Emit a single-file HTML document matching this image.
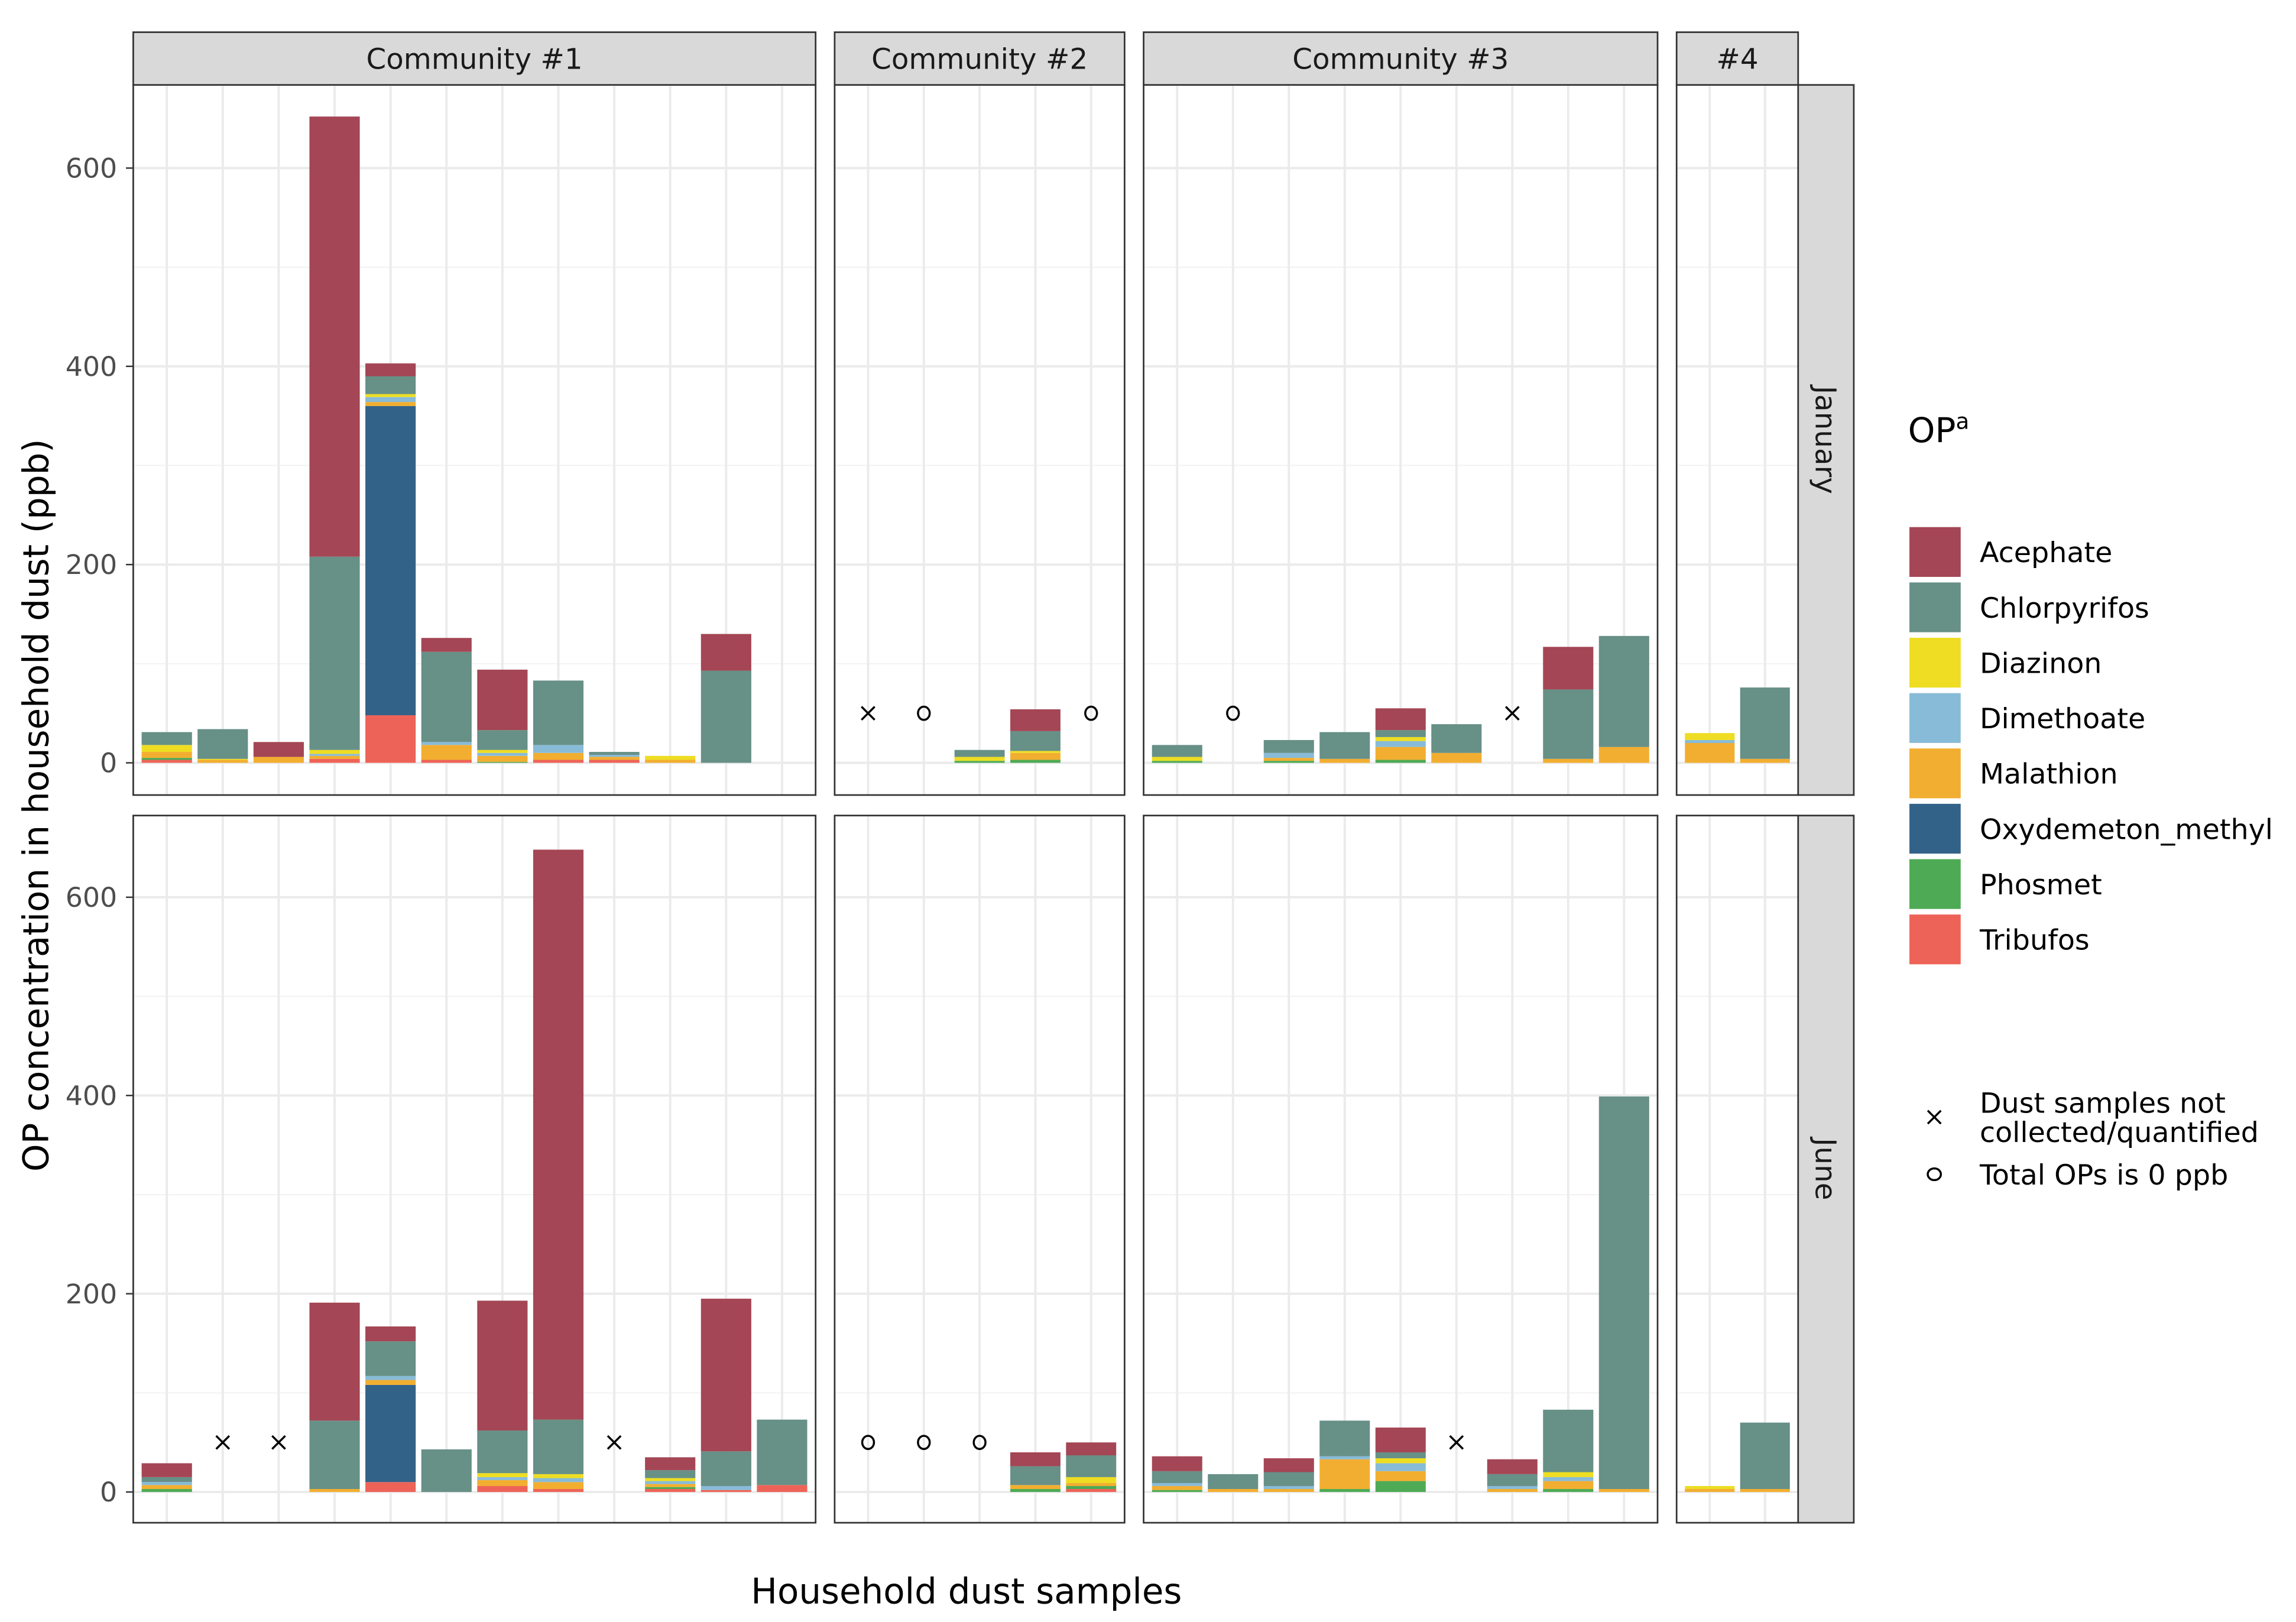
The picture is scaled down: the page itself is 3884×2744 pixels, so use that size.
<!DOCTYPE html>
<html><head><meta charset="utf-8"><style>
html,body{margin:0;padding:0;background:#fff;}
svg{display:block;font-family:"DejaVu Sans","Liberation Sans",sans-serif;}
</style></head><body>
<svg id="chart" width="3884" height="2744" viewBox="0 0 1568 1107.8" preserveAspectRatio="none" xmlns="http://www.w3.org/2000/svg">
<g id="grid"></g><g id="bars"></g><g id="frames"></g><g id="legend"></g>
</svg>
<script>
const compounds = ["Tribufos","Phosmet","Oxydemeton_methyl","Malathion","Dimethoate","Diazinon","Chlorpyrifos","Acephate"];
const colors = {Acephate:"#A44655",Chlorpyrifos:"#679087",Diazinon:"#EEDD22",Dimethoate:"#88BBD8",Malathion:"#F2AE30",Oxydemeton_methyl:"#336288",Phosmet:"#4EAA55",Tribufos:"#EE6358"};
const legendOrder = ["Acephate","Chlorpyrifos","Diazinon","Dimethoate","Malathion","Oxydemeton_methyl","Phosmet","Tribufos"];
const communities = ["Community #1","Community #2","Community #3","#4"];
const slotCounts = [12,5,9,2];
const months = ["January","June"];
const yTicks = [0,200,400,600];
const yMinor = [100,300,500];
const janSamples = [
 [0,0,{Tribufos:3,Phosmet:2,Malathion:6,Diazinon:7,Chlorpyrifos:13}],
 [0,1,{Malathion:3,Diazinon:1,Chlorpyrifos:30}],
 [0,2,{Malathion:6,Acephate:15}],
 [0,3,{Tribufos:4,Malathion:3,Dimethoate:2,Diazinon:4,Chlorpyrifos:195,Acephate:444}],
 [0,4,{Tribufos:48,Oxydemeton_methyl:312,Malathion:4,Diazinon:3,Dimethoate:5,Chlorpyrifos:18,Acephate:13}],
 [0,5,{Tribufos:3,Malathion:15,Dimethoate:3,Chlorpyrifos:91,Acephate:14}],
 [0,6,{Phosmet:1,Malathion:6,Dimethoate:3,Diazinon:3,Chlorpyrifos:20,Acephate:61}],
 [0,7,{Tribufos:3,Malathion:7,Dimethoate:8,Chlorpyrifos:65}],
 [0,8,{Tribufos:3,Malathion:3,Dimethoate:2,Chlorpyrifos:3}],
 [0,9,{Malathion:3,Diazinon:4}],
 [0,10,{Chlorpyrifos:93,Acephate:37}],
 [1,2,{Phosmet:2,Diazinon:4,Chlorpyrifos:7}],
 [1,3,{Phosmet:3,Malathion:7,Diazinon:2,Chlorpyrifos:20,Acephate:22}],
 [2,0,{Phosmet:2,Diazinon:4,Chlorpyrifos:12}],
 [2,2,{Phosmet:2,Malathion:3,Dimethoate:5,Chlorpyrifos:13}],
 [2,3,{Malathion:4,Chlorpyrifos:27}],
 [2,4,{Phosmet:3,Malathion:13,Dimethoate:6,Diazinon:4,Chlorpyrifos:7,Acephate:22}],
 [2,5,{Malathion:10,Chlorpyrifos:29}],
 [2,7,{Malathion:4,Chlorpyrifos:70,Acephate:43}],
 [2,8,{Malathion:16,Chlorpyrifos:112}],
 [3,0,{Malathion:20,Dimethoate:3,Diazinon:7}],
 [3,1,{Malathion:4,Chlorpyrifos:72}]
];
const junSamples = [
 [0,0,{Phosmet:3,Malathion:4,Dimethoate:3,Chlorpyrifos:5,Acephate:14}],
 [0,3,{Malathion:3,Chlorpyrifos:69,Acephate:119}],
 [0,4,{Tribufos:10,Oxydemeton_methyl:98,Malathion:5,Dimethoate:4,Chlorpyrifos:35,Acephate:15}],
 [0,5,{Chlorpyrifos:43}],
 [0,6,{Tribufos:6,Malathion:6,Dimethoate:3,Diazinon:4,Chlorpyrifos:43,Acephate:131}],
 [0,7,{Tribufos:3,Malathion:7,Dimethoate:4,Diazinon:4,Chlorpyrifos:55,Acephate:575}],
 [0,9,{Tribufos:3,Malathion:3,Dimethoate:3,Diazinon:3,Phosmet:2,Chlorpyrifos:8,Acephate:13}],
 [0,10,{Tribufos:2,Dimethoate:4,Chlorpyrifos:35,Acephate:154}],
 [0,11,{Tribufos:7,Chlorpyrifos:66}],
 [1,3,{Phosmet:3,Malathion:4,Chlorpyrifos:19,Acephate:14}],
 [1,4,{Tribufos:3,Phosmet:3,Malathion:3,Diazinon:6,Chlorpyrifos:22,Acephate:13}],
 [2,0,{Phosmet:2,Malathion:4,Dimethoate:3,Chlorpyrifos:12,Acephate:15}],
 [2,1,{Malathion:3,Chlorpyrifos:15}],
 [2,2,{Malathion:3,Dimethoate:3,Chlorpyrifos:14,Acephate:14}],
 [2,3,{Phosmet:3,Malathion:30,Dimethoate:3,Chlorpyrifos:36}],
 [2,4,{Phosmet:11,Malathion:10,Dimethoate:8,Diazinon:5,Chlorpyrifos:6,Acephate:25}],
 [2,6,{Malathion:3,Dimethoate:3,Chlorpyrifos:12,Acephate:15}],
 [2,7,{Phosmet:3,Malathion:8,Dimethoate:4,Diazinon:5,Chlorpyrifos:63}],
 [2,8,{Malathion:3,Chlorpyrifos:396}],
 [3,0,{Malathion:3,Diazinon:3}],
 [3,1,{Malathion:3,Chlorpyrifos:67}]
];
const janMarkers = [[1,0,"x"],[1,1,"o"],[1,4,"o"],[2,1,"o"],[2,6,"x"]];
const junMarkers = [[0,1,"x"],[0,2,"x"],[0,8,"x"],[1,0,"o"],[1,1,"o"],[1,2,"o"],[2,5,"x"]];
const markerValue = 50;

const NS="http://www.w3.org/2000/svg";
function mk(parent,tag,attrs,text){const e=document.createElementNS(NS,tag);for(const k in attrs)e.setAttribute(k,attrs[k]);if(text!==undefined)e.textContent=text;parent.appendChild(e);return e;}
const panelX=[[91,557],[570,768],[781,1132],[1145,1228]];
const rows=[{top:58,bottom:543,y0:521},{top:557,bottom:1040,y0:1019}];
const pxPerUnit=0.677;
function yScale(row,v){return rows[row].y0 - v*pxPerUnit;}
function xCenter(c,slot){const [a,b]=panelX[c];const w=(b-a)/(slotCounts[c]+0.2);return a+w*(0.6+slot);}
function slotW(c){const [a,b]=panelX[c];return (b-a)/(slotCounts[c]+0.2);}
const G=document.getElementById('grid'),B=document.getElementById('bars'),F=document.getElementById('frames'),L=document.getElementById('legend');

rows.forEach((r,ri)=>{
 panelX.forEach(([a,b],ci)=>{
  mk(G,'rect',{x:a,y:r.top,width:b-a,height:r.bottom-r.top,fill:'#fff'});
  yMinor.forEach(v=>mk(G,'line',{x1:a,x2:b,y1:yScale(ri,v),y2:yScale(ri,v),stroke:'#F2F2F2','stroke-width':0.8}));
  yTicks.forEach(v=>mk(G,'line',{x1:a,x2:b,y1:yScale(ri,v),y2:yScale(ri,v),stroke:'#EBEBEB','stroke-width':1.6}));
  for(let s=0;s<slotCounts[ci];s++){const x=xCenter(ci,s);mk(G,'line',{x1:x,x2:x,y1:r.top,y2:r.bottom,stroke:'#EBEBEB','stroke-width':1.6});}
 });
 yTicks.forEach(v=>{
  const y=yScale(ri,v);
  mk(F,'line',{x1:86,x2:91,y1:y,y2:y,stroke:'#333','stroke-width':1});
  const t=mk(F,'text',{x:80,y:y+6.5,'text-anchor':'end','font-size':18.5,fill:'#4D4D4D'},String(v));
  
  
 });
});

function drawSamples(samples,ri){
 samples.forEach(([c,s,vals])=>{
  const g=mk(B,'g',{});
  
  
  const w=slotW(c)*0.9,x=xCenter(c,s)-w/2;let cum=0;
  compounds.forEach(k=>{const v=vals[k]||0;if(!v)return;
   const y1=yScale(ri,cum+v),y2=yScale(ri,cum);
   const rc=mk(g,'rect',{x:x,y:y1,width:w,height:y2-y1,fill:colors[k]});
   
   
   cum+=v;});
 });
}
function drawMarkers(ms,ri){
 ms.forEach(([c,s,t])=>{const x=xCenter(c,s),y=yScale(ri,markerValue);let e;
  if(t==='x'){e=mk(B,'path',{d:`M${x-4.5} ${y-4.5}L${x+4.5} ${y+4.5}M${x-4.5} ${y+4.5}L${x+4.5} ${y-4.5}`,stroke:'#000','stroke-width':1.4});}
  else{e=mk(B,'ellipse',{cx:x,cy:y,rx:4,ry:4.5,fill:'none',stroke:'#000','stroke-width':1.4});}
  
  
 });
}
drawSamples(janSamples,0);drawSamples(junSamples,1);
drawMarkers(janMarkers,0);drawMarkers(junMarkers,1);

rows.forEach((r,ri)=>{
 panelX.forEach(([a,b],ci)=>{
  mk(F,'rect',{x:a,y:r.top,width:b-a,height:r.bottom-r.top,fill:'none',stroke:'#333','stroke-width':1.1});
 });
 const st=mk(F,'rect',{x:1228,y:r.top,width:38,height:r.bottom-r.top,fill:'#D9D9D9',stroke:'#333','stroke-width':1.1});
 
 
 const cy=(r.top+r.bottom)/2;
 const tt=mk(F,'text',{x:0,y:0,transform:`translate(1240,${cy}) rotate(90)`,'text-anchor':'middle','font-size':19.5,fill:'#1A1A1A'},months[ri]);
 
 
});
panelX.forEach(([a,b],ci)=>{
 const s=mk(F,'rect',{x:a,y:22,width:b-a,height:36,fill:'#D9D9D9',stroke:'#333','stroke-width':1.1});
 
 
 const t=mk(F,'text',{x:(a+b)/2,y:47,'text-anchor':'middle','font-size':19.5,fill:'#1A1A1A'},communities[ci]);
 
 
});
const yt=mk(F,'text',{x:0,y:0,transform:'translate(33,550) rotate(-90)','text-anchor':'middle','font-size':24,fill:'#000'},'OP concentration in household dust (ppb)');


const xt=mk(F,'text',{x:660,y:1095,'text-anchor':'middle','font-size':24,fill:'#000'},'Household dust samples');



const lt=mk(L,'text',{x:1303,y:302,'font-size':23.5,fill:'#000'},'OP');


mk(lt,'tspan',{dy:-9,'font-size':15},'a');
legendOrder.forEach((k,i)=>{
 const y=360+i*37.8;
 const g=mk(L,'g',{});
 
 
 mk(g,'rect',{x:1304,y:y,width:35,height:34,fill:colors[k]});
 mk(g,'text',{x:1352,y:y+24,'font-size':19.2,fill:'#000'},k);
});
const m1=mk(L,'g',{});


mk(m1,'path',{d:'M1316.5 758.5L1325.5 767.5M1316.5 767.5L1325.5 758.5',stroke:'#000','stroke-width':1.4});
mk(m1,'text',{x:1352,y:760,'font-size':19.2,fill:'#000'},'Dust samples not');
mk(m1,'text',{x:1352,y:780,'font-size':19.2,fill:'#000'},'collected/quantified');
const m2=mk(L,'g',{});


mk(m2,'ellipse',{cx:1321,cy:802,rx:4.5,ry:4,fill:'none',stroke:'#000','stroke-width':1.4});
mk(m2,'text',{x:1352,y:809,'font-size':19.2,fill:'#000'},'Total OPs is 0 ppb');
</script>
</body></html>
